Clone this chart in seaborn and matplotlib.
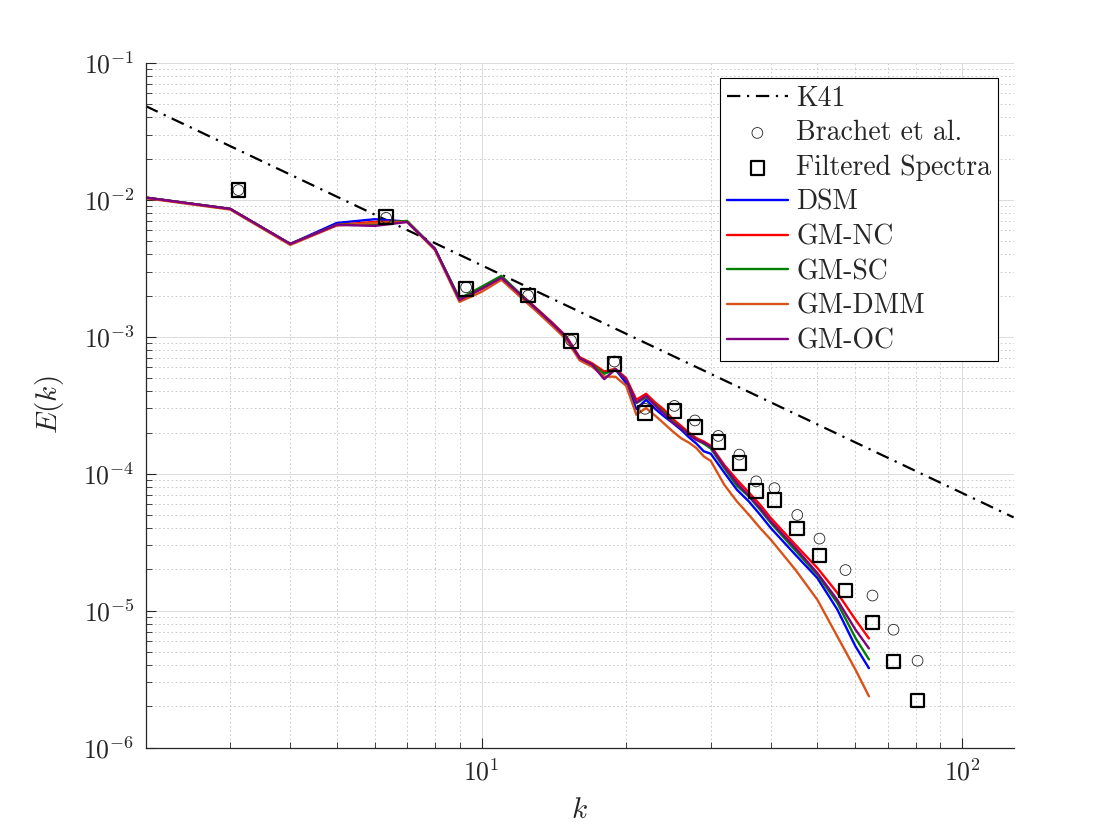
import numpy as np
import pandas as pd
import seaborn as sns
import matplotlib
matplotlib.use('Agg')
import matplotlib.pyplot as plt
from matplotlib.ticker import LogLocator, NullFormatter

# K41 reference line (end points)
k41_k = [2, 128]
k41_E = [0.0485, 4.8e-5]

# Brachet et al. and filtered spectra
k_ref = [3.12, 6.33, 9.29, 12.5, 15.36, 18.9, 21.9, 25.2, 27.8, 31.1,
         34.4, 37.3, 40.7, 45.4, 50.5, 57.2, 65.1, 72.0, 80.8]
E_brachet = [0.0118, 0.0074, 0.0023, 0.0020, 9.4e-4, 6.6e-4, 2.98e-4, 3.13e-4, 2.45e-4, 1.89e-4,
             1.38e-4, 8.8e-5, 7.85e-5, 5.0e-5, 3.36e-5, 1.98e-5, 1.29e-5, 7.26e-6, 4.31e-6]
E_filtered = [0.0118, 0.0075, 0.00224, 0.0020, 9.3e-4, 6.35e-4, 2.79e-4, 2.88e-4, 2.2e-4, 1.71e-4,
              1.2e-4, 7.5e-5, 6.45e-5, 3.98e-5, 2.52e-5, 1.40e-5, 8.2e-6, 4.25e-6, 2.2e-6]

# LES spectra
k_les = list(range(2, 31)) + [32, 34, 36, 38, 40, 45, 50, 55, 60, 64]
E_dsm = [0.0104, 0.0086, 0.00477, 0.00679, 0.00723, 0.00695, 0.00439, 0.00189, 0.00226, 0.00272,
         0.00206, 0.00160, 0.00126, 0.000995, 0.000699, 0.000625, 0.000543, 0.000579, 0.000459, 0.000297,
         0.000347, 0.000297, 0.000262, 0.000235, 0.000210, 0.000185, 0.000166, 0.000146, 0.000140,
         0.000102, 7.64e-5, 6.28e-5, 5.02e-5, 4.01e-5, 2.56e-5, 1.73e-5, 1.02e-5, 5.49e-6, 3.80e-6]
E_nc = [0.0104, 0.0086, 0.00477, 0.00657, 0.00691, 0.00695, 0.00439, 0.00186, 0.00224, 0.00270,
        0.00208, 0.00162, 0.00128, 0.00101, 0.000710, 0.000640, 0.000558, 0.000585, 0.000499, 0.000347,
        0.000384, 0.000331, 0.000293, 0.000251, 0.000224, 0.000200, 0.000182, 0.000172, 0.000160,
        0.000116, 9.04e-5, 7.30e-5, 5.94e-5, 4.75e-5, 3.03e-5, 2.05e-5, 1.35e-5, 8.60e-6, 6.27e-6]
E_sc = [0.0104, 0.0086, 0.00477, 0.00657, 0.00668, 0.00703, 0.00439, 0.00190, 0.00232, 0.00279,
        0.00208, 0.00160, 0.00126, 0.000990, 0.000699, 0.000625, 0.000537, 0.000579, 0.000486, 0.000328,
        0.000363, 0.000319, 0.000280, 0.000241, 0.000216, 0.000195, 0.000177, 0.000166, 0.000153,
        0.000110, 8.17e-5, 6.83e-5, 5.46e-5, 4.37e-5, 2.75e-5, 1.83e-5, 1.14e-5, 6.32e-6, 4.41e-6]
E_dmm = [0.0103, 0.0085, 0.00469, 0.00650, 0.00679, 0.00690, 0.00430, 0.00180, 0.00213, 0.00261,
         0.00198, 0.00154, 0.00121, 0.000959, 0.000674, 0.000604, 0.000513, 0.000511, 0.000439, 0.000270,
         0.000302, 0.000265, 0.000232, 0.000204, 0.000182, 0.000169, 0.000154, 0.000134, 0.000124,
         8.31e-5, 6.28e-5, 5.02e-5, 4.01e-5, 3.30e-5, 1.99e-5, 1.20e-5, 6.49e-6, 3.71e-6, 2.37e-6]
E_oc = [0.0104, 0.0086, 0.00477, 0.00657, 0.00646, 0.00690, 0.00439, 0.00186, 0.00224, 0.00270,
        0.00206, 0.00160, 0.00126, 0.000995, 0.000699, 0.000625, 0.000491, 0.000579, 0.000486, 0.000331,
        0.000371, 0.000314, 0.000274, 0.000237, 0.000216, 0.000193, 0.000177, 0.000169, 0.000157,
        0.000113, 8.55e-5, 6.91e-5, 5.62e-5, 4.49e-5, 2.87e-5, 1.88e-5, 1.20e-5, 7.27e-6, 5.30e-6]

models = ['DSM', 'GM-NC', 'GM-SC', 'GM-DMM', 'GM-OC']
model_E = [E_dsm, E_nc, E_sc, E_dmm, E_oc]
model_colors = ['#0000ff', '#ff0000', '#008000', '#d95319', '#800080']

sns.set_style('white')
plt.rcParams['font.family'] = 'serif'
plt.rcParams['font.serif'] = ['cmr10', 'DejaVu Serif']
plt.rcParams['mathtext.fontset'] = 'cm'
plt.rcParams['axes.formatter.use_mathtext'] = True

fig = plt.figure(figsize=(11.2, 8.4), dpi=100)
ax = fig.add_axes([0.13, 0.11, 0.775, 0.815])

ax.plot(k41_k, k41_E, color='black', lw=1.6, ls=(0, (6, 3, 1, 3)), label='K41')
sns.scatterplot(x=k_ref, y=E_brachet, ax=ax, marker='o', s=60, facecolor='none',
                edgecolor='#222222', linewidth=0.6, label='Brachet et al.', zorder=3)
sns.scatterplot(x=k_ref, y=E_filtered, ax=ax, marker='s', s=95, facecolor='none',
                edgecolor='black', linewidth=1.6, label='Filtered Spectra', zorder=3)

for name, E, c in zip(models, model_E, model_colors):
    df = pd.DataFrame({'k': k_les, 'E': E})
    sns.lineplot(data=df, x='k', y='E', ax=ax, color=c, lw=1.7, label=name,
                 estimator=None, sort=False)

ax.set_xscale('log')
ax.set_yscale('log')
ax.set_xlim(2, 128)
ax.set_ylim(1e-6, 1e-1)

ax.xaxis.set_minor_locator(LogLocator(base=10, subs=np.arange(2, 10)))
ax.yaxis.set_minor_locator(LogLocator(base=10, subs=np.arange(2, 10), numticks=20))
ax.yaxis.set_major_locator(LogLocator(base=10, numticks=20))
ax.xaxis.set_minor_formatter(NullFormatter())
ax.yaxis.set_minor_formatter(NullFormatter())

ax.grid(True, which='major', color='#dcdcdc', lw=0.7, ls='-')
ax.grid(True, which='minor', color='#c4c4c4', lw=0.6, ls=(0, (2, 3)))
ax.set_axisbelow(True)

for side in ['top', 'right']:
    ax.spines[side].set_visible(False)
for side in ['left', 'bottom']:
    ax.spines[side].set_color('#262626')
    ax.spines[side].set_linewidth(0.9)
ax.tick_params(which='both', direction='in', colors='#262626', labelsize=18.5,
               top=False, right=False, left=True, bottom=True)
ax.tick_params(which='major', length=7, width=0.8, pad=8)
ax.tick_params(which='minor', length=4, width=0.6)

ax.set_xlabel('$k$', fontsize=21, color='#262626', labelpad=9)
ax.set_ylabel('$E(k)$', fontsize=21, color='#262626', labelpad=12)

leg = ax.legend(loc='upper right', fontsize=20, frameon=True, fancybox=False,
                edgecolor='black', framealpha=1, labelspacing=0.3, handlelength=2.2,
                borderaxespad=0.55, borderpad=0.25, handletextpad=0.3)
leg.get_frame().set_linewidth(0.8)

fig.savefig('out.png', dpi=100)
